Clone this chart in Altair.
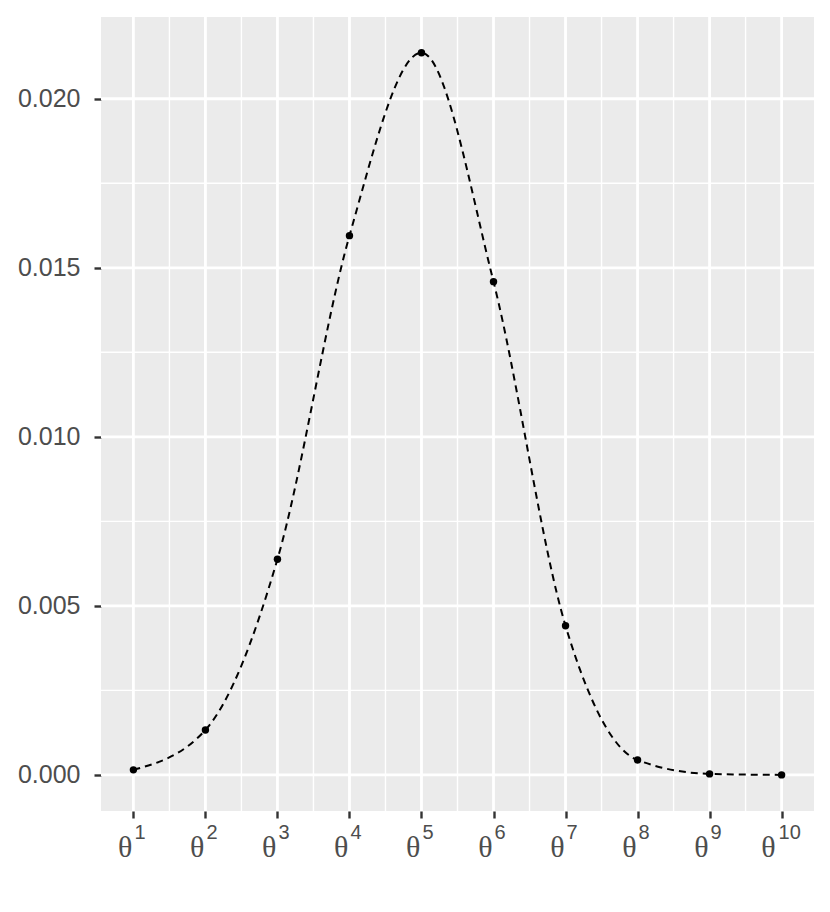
import altair as alt
import pandas as pd

# --- data ---
k = [1, 2, 3, 4, 5, 6, 7, 8, 9, 10]
exponent = ["1", "2", "3", "4", "5", "6", "7", "8", "9", "10"]
prob = [0.00015, 0.00133, 0.00638, 0.01595, 0.02136,
        0.01459, 0.00441, 0.00044, 0.00003, 0.00000]

x_major = [1, 2, 3, 4, 5, 6, 7, 8, 9, 10]
x_minor = [1.5, 2.5, 3.5, 4.5, 5.5, 6.5, 7.5, 8.5, 9.5]
y_major = [0.0, 0.005, 0.010, 0.015, 0.020]
y_minor = [0.0025, 0.0075, 0.0125, 0.0175]

W, H = 713, 794

df = pd.DataFrame({"k": k, "p": prob, "e": exponent})

xscale = alt.Scale(domain=[0.55, 10.45], nice=False, zero=False)
yscale = alt.Scale(domain=[-0.0010675, 0.0224175], nice=False, zero=False)

xaxis = alt.Axis(values=x_major, labels=False, grid=False, domain=False,
                 ticks=True, tickSize=7, tickWidth=2.4, tickColor="#333333",
                 title=None)
yaxis = alt.Axis(values=y_major, format=".3f", grid=False, domain=False,
                 ticks=True, tickSize=7, tickWidth=2.4, tickColor="#333333",
                 labelFont="Liberation Sans", labelFontSize=25,
                 labelColor="#4D4D4D", labelPadding=14, title=None)

def X(field):
    return alt.X(field, type="quantitative", scale=xscale, axis=xaxis)

def Y(field):
    return alt.Y(field, type="quantitative", scale=yscale, axis=yaxis)

vmaj = alt.Chart(pd.DataFrame({"v": x_major})).mark_rule(
    color="white", strokeWidth=2.8).encode(x=X("v"))
vmin = alt.Chart(pd.DataFrame({"v": x_minor})).mark_rule(
    color="white", strokeWidth=1.4).encode(x=X("v"))
hmaj = alt.Chart(pd.DataFrame({"h": y_major})).mark_rule(
    color="white", strokeWidth=2.8).encode(y=Y("h"))
hmin = alt.Chart(pd.DataFrame({"h": y_minor})).mark_rule(
    color="white", strokeWidth=1.4).encode(y=Y("h"))

base = alt.Chart(df)

line = base.mark_line(color="black", strokeWidth=2, strokeDash=[7, 5],
                      interpolate="monotone").encode(x=X("k"), y=Y("p"))
points = base.mark_point(filled=True, color="black", size=55,
                         opacity=1).encode(x=X("k"), y=Y("p"))

one = base.transform_filter("length(datum.e) == 1")
two = base.transform_filter("length(datum.e) == 2")

theta_style = dict(text="θ", font="Liberation Serif", fontSize=30,
                   color="#4D4D4D", align="right", baseline="middle")
sup_style = dict(font="Liberation Sans", fontSize=20, color="#4D4D4D",
                 align="left", baseline="middle")

theta1 = one.mark_text(dx=-1, **theta_style).encode(
    x=X("k"), y=alt.value(H + 37))
sup1 = one.mark_text(dx=1, **sup_style).encode(
    x=X("k"), y=alt.value(H + 22), text="e:N")
theta2 = two.mark_text(dx=-6, **theta_style).encode(
    x=X("k"), y=alt.value(H + 37))
sup2 = two.mark_text(dx=-3, **sup_style).encode(
    x=X("k"), y=alt.value(H + 22), text="e:N")

chart = alt.layer(
    hmin, vmin, hmaj, vmaj, line, points, theta1, sup1, theta2, sup2
).properties(
    width=W, height=H,
    background="white",
    autosize=alt.AutoSizeParams(type="none"),
    padding={"left": 93, "top": 9, "right": 8, "bottom": 94},
).configure_view(
    fill="#EBEBEB", stroke=None
)

chart.save("out.html", embed_options={"renderer": "svg", "actions": False})
